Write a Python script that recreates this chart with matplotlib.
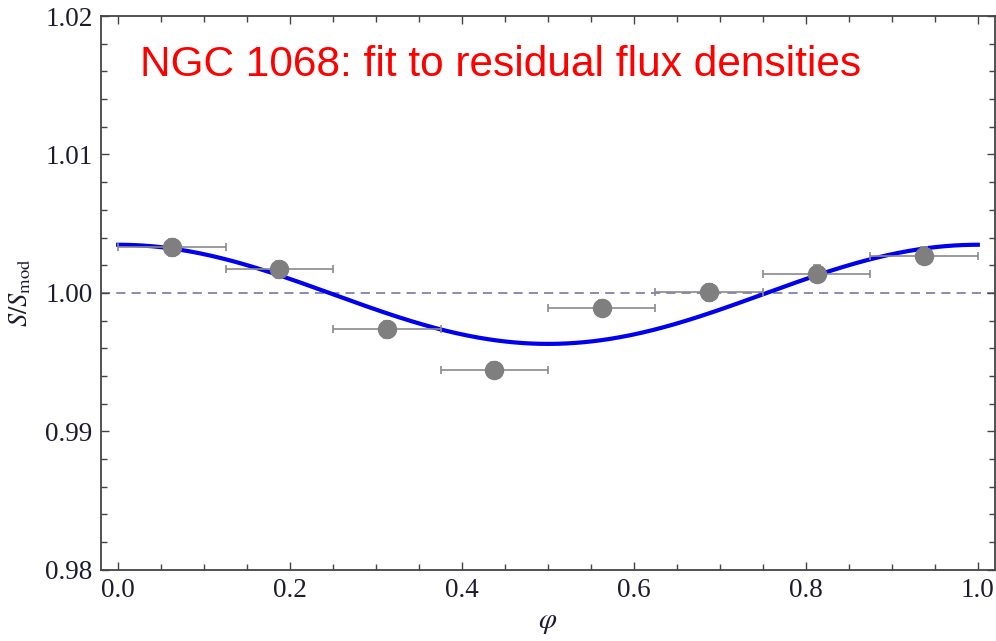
import matplotlib
matplotlib.use("Agg")
import matplotlib.pyplot as plt
import numpy as np
from matplotlib.ticker import MultipleLocator

# phase bins (centres), half-widths and residual flux ratios
phase = [0.0625, 0.1875, 0.3125, 0.4375, 0.5625, 0.6875, 0.8125, 0.9375]
phase_err = [0.0625] * 8
ratio = [1.0033, 1.0017, 0.99738, 0.99444, 0.99890, 1.00005, 1.0014, 1.0027]
ratio_err = [0.0006] * 8

# sinusoidal fit: S/S_mod = offset + amp * cos(2 pi phi)
fit_offset = 0.99990
fit_amp = 0.00358

plt.rcParams['mathtext.fontset'] = 'stix'
plt.rcParams['font.family'] = 'Liberation Serif'

fig = plt.figure(figsize=(9.96, 6.41), dpi=100)
ax = fig.add_axes([0.1014, 0.111, 0.8976, 0.864])

ax.axhline(1.0, color='#6b6ba6', lw=1.1, ls=(0, (6, 4)), zorder=1)

phi = np.linspace(0, 1, 400)
ax.plot(phi, fit_offset + fit_amp * np.cos(2 * np.pi * phi), color='#0000ee', lw=3, zorder=2)

ax.errorbar(phase, ratio, xerr=phase_err, yerr=ratio_err, fmt='o', color='#7f7f7f',
            ecolor='#8a8a8a', elinewidth=1.2, capsize=3, capthick=1.2, markersize=13, zorder=3)

ax.set_xlim(-0.02, 1.02)
ax.set_ylim(0.98, 1.02)
ax.xaxis.set_major_locator(MultipleLocator(0.2))
ax.xaxis.set_minor_locator(MultipleLocator(0.05))
ax.yaxis.set_major_locator(MultipleLocator(0.01))
ax.yaxis.set_minor_locator(MultipleLocator(0.002))
ax.xaxis.set_major_formatter(matplotlib.ticker.FormatStrFormatter('%.1f'))
ax.yaxis.set_major_formatter(matplotlib.ticker.FormatStrFormatter('%.2f'))

ax.tick_params(which='both', direction='in', top=True, right=True, color='#444444',
               labelsize=19.5, labelcolor='#1c1c30', pad=6)
ax.tick_params(which='major', length=6, width=1)
ax.tick_params(which='minor', length=4, width=1)
for s in ax.spines.values():
    s.set_color('#444444')
    s.set_linewidth(1.3)

ax.set_xlabel(r'$\varphi$', fontsize=21, color='#1c1c30', labelpad=5)
ax.set_ylabel(r'$S/S_{\rm mod}$', fontsize=19, color='#1c1c30', labelpad=9)

ax.text(0.0436, 0.892, 'NGC 1068: fit to residual flux densities', transform=ax.transAxes,
        color='#ff0000', fontsize=30.5, family='Liberation Sans', va='baseline', ha='left')

fig.savefig('out.png', dpi=100)
